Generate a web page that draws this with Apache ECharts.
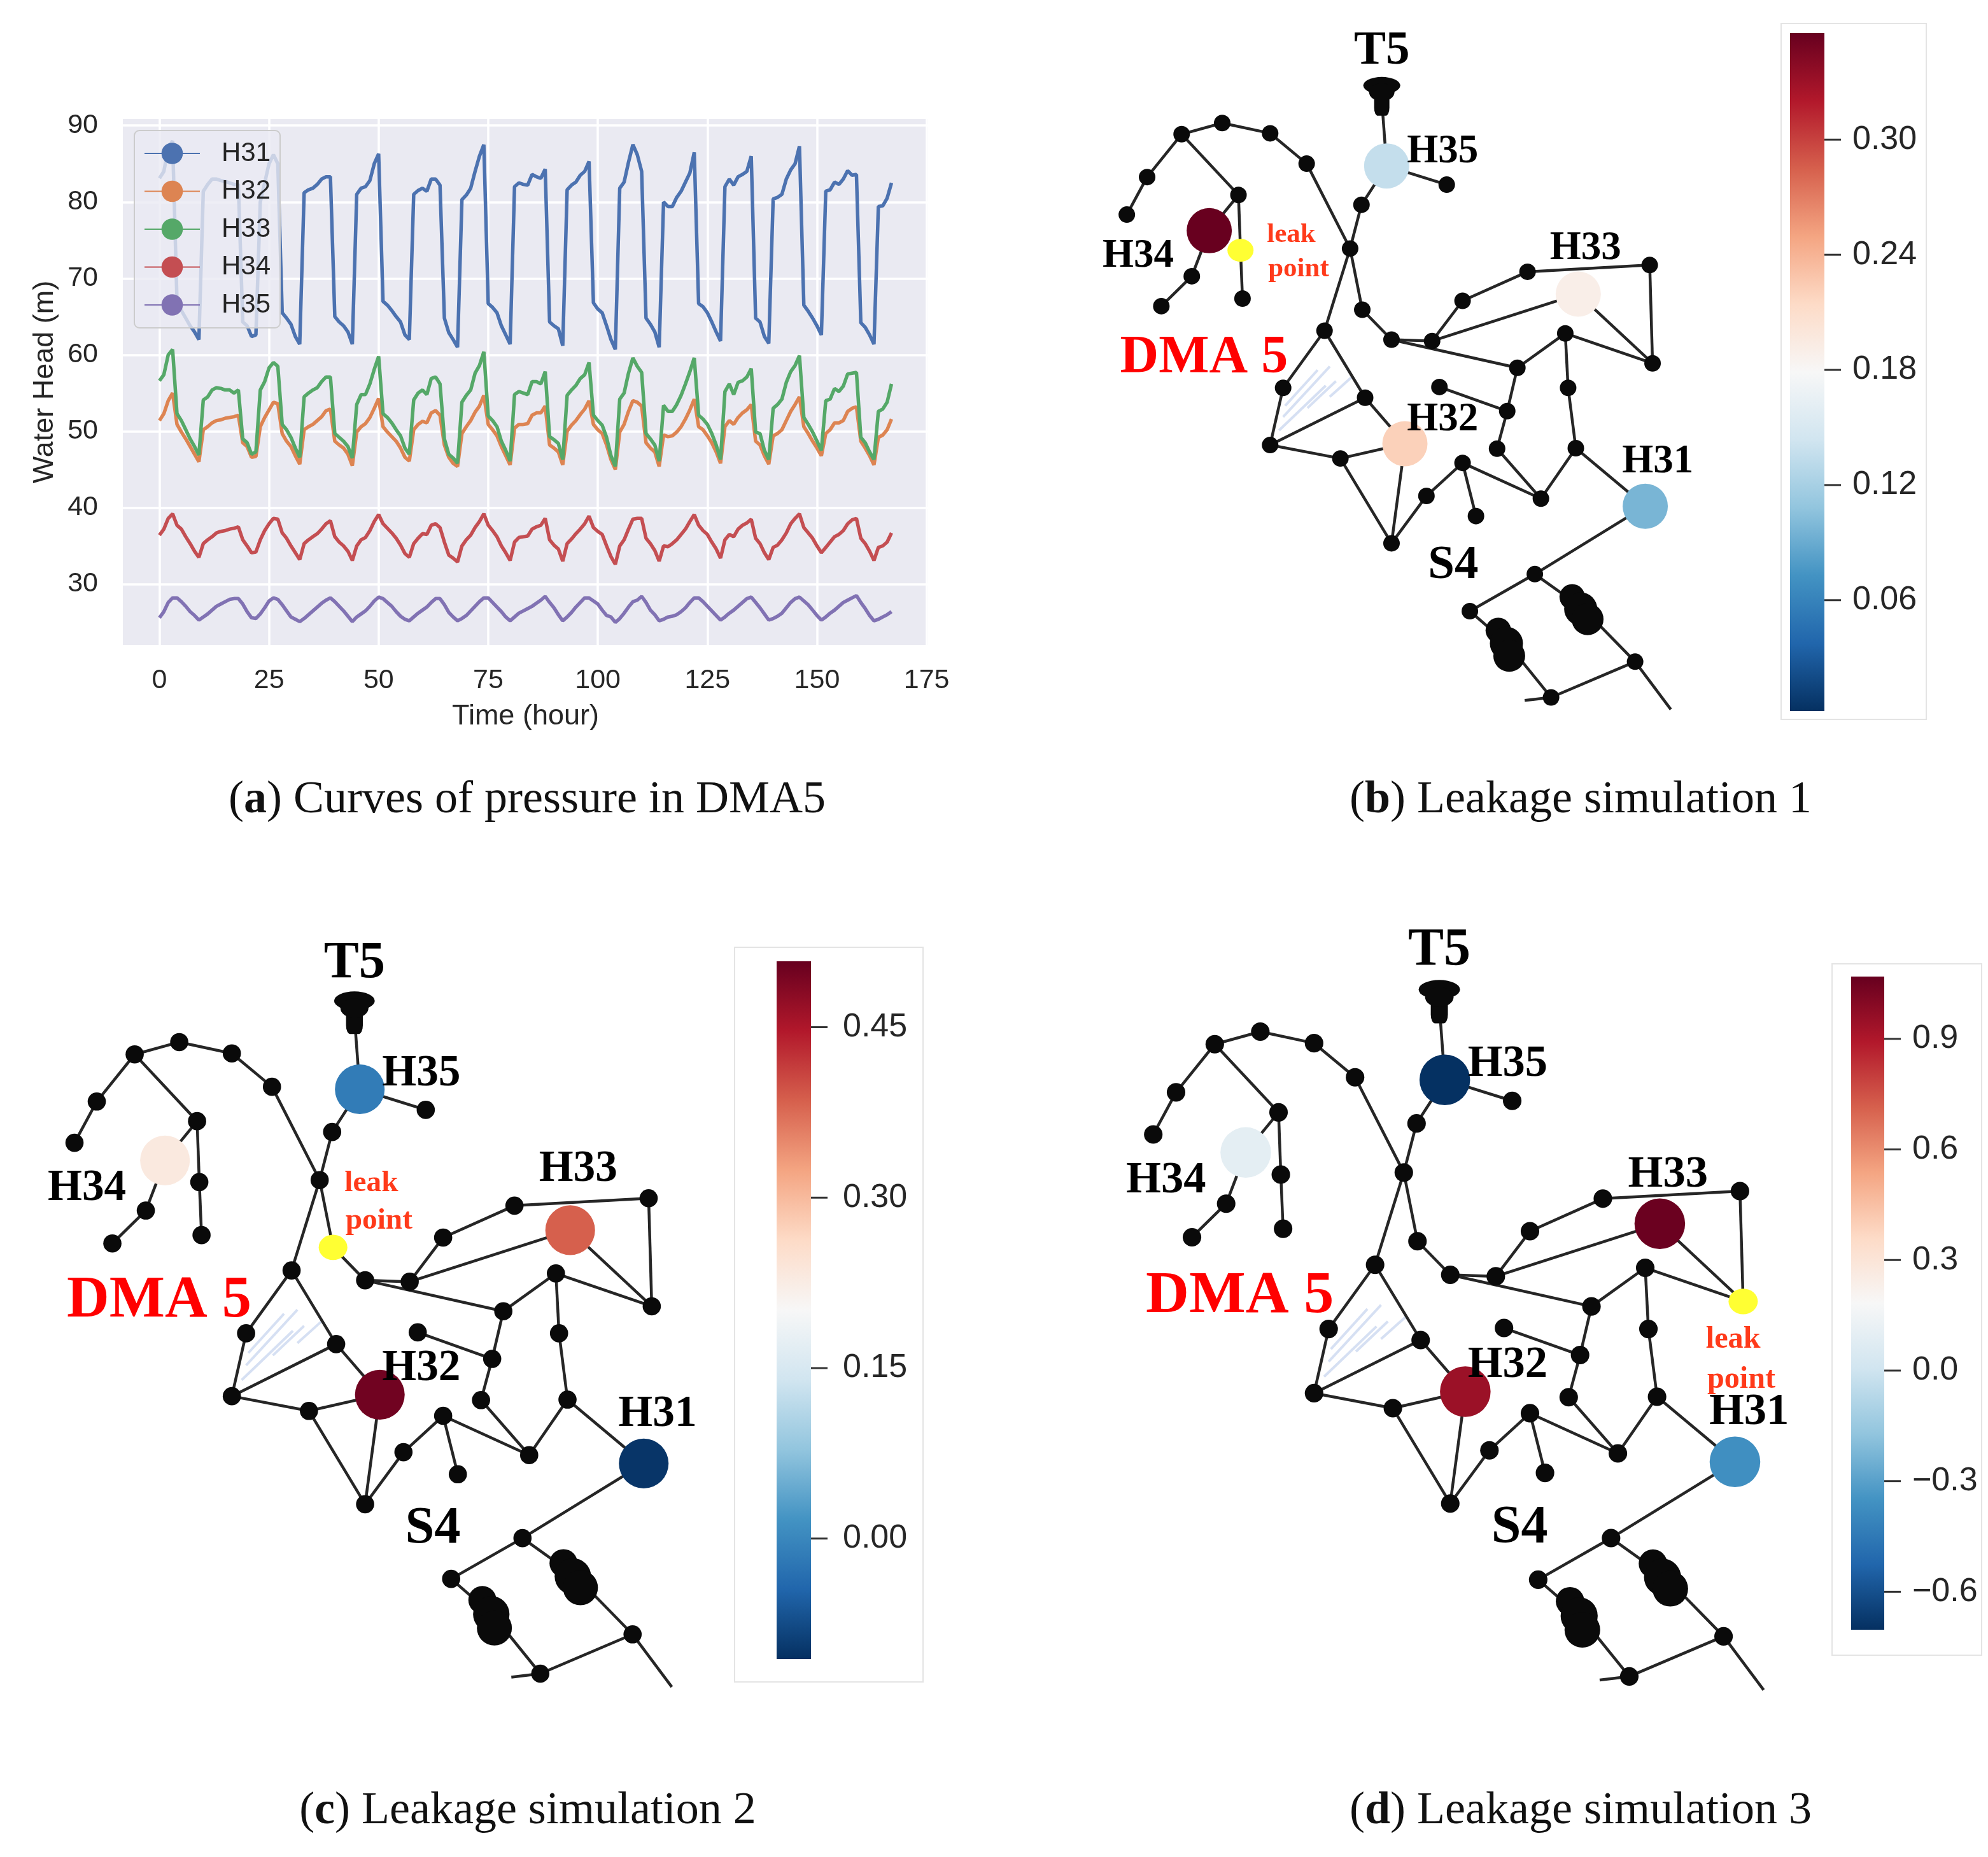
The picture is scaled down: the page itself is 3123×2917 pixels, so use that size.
<!DOCTYPE html>
<html><head><meta charset="utf-8">
<style>html,body{margin:0;padding:0;background:#fff}#c{width:3123px;height:2917px}</style>
<script src="https://cdn.jsdelivr.net/npm/echarts@6/dist/echarts.min.js"></script>
</head><body><div id="c"></div>
<script>
const hours = Array.from({length:168},(_,i)=>i);
const xTicks = [0,25,50,75,100,125,150,175];
const yTicks = [30,40,50,60,70,80,90];
const H31 = [83.1,84,87,88,67,65.8,64.8,63.8,63,62,81.4,82.3,83,83,82.8,82.7,82.5,82.3,82.3,64.3,63.8,62.4,62.6,80,82.5,85,86.2,85,65.5,64.8,64,62.4,61.4,81.2,81.6,81.8,82.3,83,83.3,83.3,65,64.3,63.8,63,61.4,81,81.8,82,82.8,85,86.3,67,66.5,65.8,65,64.3,62.6,62,81,81.5,81.8,81.4,83,83,82.2,64.8,62.9,62,61,80.3,80.9,81.8,84,86,87.5,66.7,66.2,65.5,63.8,62.6,61.4,82,82.5,82.3,82.2,83.6,83.3,83.1,84.3,64.3,63.8,63.4,61.2,81.6,82.2,82.6,83.5,84,85.3,66.8,66,65.5,63.8,62,60.7,81.8,82.6,85.2,87.5,86.2,84,64.8,64,63,61,80,79.4,79.4,80.6,81.4,82.6,83.8,86.5,66.7,66.3,65.5,64.3,63,61.8,82,83,82.2,83.3,83.6,84,86,64.8,64.3,62.4,61.5,80.4,80.6,81,83,84.2,85,87.3,66.5,65.7,64.8,63.8,62.6,81.4,81.6,82.6,82.3,83,84.1,83.5,83.6,64.2,63.6,62.6,61.4,79.4,79.5,80.5,82.5];
const H32 = [51.4,52.3,54,55,50.9,49.9,49,48,47,46,50.2,50.6,51.1,51.4,51.5,51.7,51.8,51.9,52.1,48.5,48,46.6,46.7,50.6,51.8,52.8,53.8,53.6,49.7,48.7,48,46.8,45.7,50.2,50.6,50.9,51.4,51.9,52.7,52.9,48.7,48.2,47.8,47,45.5,49.9,50.6,51,51.8,53,54.3,50.6,49.9,49.3,48.7,47.8,46.6,46.1,50.2,50.9,51.3,51.1,52.4,52.7,52.1,48.2,46.6,45.8,45.4,49.7,50.6,51.4,52.5,53.3,54.7,50.9,50.2,49.4,48,46.8,45.6,50.4,50.9,50.9,51,52.1,52.4,52.4,53.3,48.2,47.8,47.3,45.6,50,50.8,51.4,52.2,52.9,54,50.9,50.2,49.7,48.2,46.3,45,49.9,50.9,52.6,54,53.8,53.3,48.5,47.8,47.3,45.4,49.5,49.3,49.4,49.9,50.6,51.6,52.8,54.2,50.6,50.2,49.4,48.5,47.3,45.8,50.6,51.4,50.9,51.8,52.4,52.8,53.5,48.7,48.2,46.8,45.7,49.4,49.7,50.2,51.4,52.6,53.5,54.5,50.6,49.7,48.7,47.8,46.8,49.7,50.2,51.1,51.1,51.4,52.6,53,53.2,48.7,47.8,46.8,45.6,49.2,49.5,50.2,51.6];
const H33 = [56.6,57.4,60,60.7,52.3,51.4,50.2,49,48,46.9,54.1,54.5,55.4,55.7,55.6,55.4,55.4,55,55.4,49,48.5,47,47.3,55.4,56.5,58.3,59,58.5,50.9,50.2,49.2,47.8,46.6,54.5,55,55.4,55.7,56.5,57.1,57.1,49.7,49.2,48.7,48,46.5,53.5,54.8,54.8,56.2,58.1,59.8,52.3,51.8,51.1,50.2,49.4,47.8,47,54.1,55,55.4,54.8,56.9,57.1,56.2,49,47,46.5,45.8,53.8,54.7,55.4,57.6,58.6,60.4,52,51.4,50.6,48.7,47.5,46.1,54.8,55.2,55,54.8,56.5,56.5,56.2,57.8,49.3,48.9,48.4,46.3,54.7,55.4,56,56.9,57.4,59,52.1,51.4,50.8,49.2,46.8,45.4,54.2,55,57.6,59.6,58.5,57.7,49.7,49,48.2,46.1,53.4,52.6,52.6,53.5,54.7,56.2,57.8,59.6,52.1,51.6,50.9,49.7,48.2,46.3,55.2,56.2,54.8,56.4,56.6,57.1,58.2,49.9,49.7,47.5,46.3,53,53.5,54.2,56.4,57.8,58.6,59.9,51.8,50.9,49.9,48.7,47.5,54,54.2,55.6,55.2,55.9,57.5,57.6,57.7,49.2,48.5,47.3,46.3,52.6,52.9,53.8,56.2];
const H34 = [36.4,37.2,38.6,39.2,37.7,37.2,36.2,35.3,34.3,33.5,35.3,35.8,36.2,36.7,36.9,37,37.2,37.3,37.5,35.8,35,34.1,34.2,35.8,37,37.9,38.6,38.5,36.7,36,35,34.1,33.2,35.3,35.8,36.2,36.6,37.2,37.9,38.3,36.2,35.5,35,34.3,33.1,35,35.8,36.1,37,38.2,39.1,37.9,37.3,36.7,36,35.1,34,33.5,35.3,36,36.6,36.5,37.7,37.9,37.4,35.5,33.8,33.4,32.9,35,35.8,36.4,37.4,38.2,39.2,37.7,37,36.2,35,34.1,33.1,35.5,36.1,36.2,36.3,37.2,37.5,37.7,38.6,35.8,35.1,34.6,33,35.3,35.9,36.6,37.2,37.9,38.9,37.4,36.9,36.5,35,33.6,32.6,35,35.8,37.2,38.5,38.6,38.6,36,35.3,34.4,33,35,34.9,35.3,35.8,36.5,37.2,38.2,39.1,37.7,37,36.5,35.5,34.6,33.4,35.8,36.5,36.2,37.2,37.7,38,38.5,36,35.3,34.1,33.2,34.8,35.1,35.8,36.7,37.9,38.6,39.2,37.4,36.7,36,35,34.1,34.8,35.5,36.2,36.5,37,37.9,38.4,38.6,36,35.3,34.3,33.1,34.8,35,35.5,36.7];
const H35 = [25.6,26.4,27.6,28.2,28.2,27.7,27.1,26.4,25.9,25.3,25.7,26.1,26.6,27.1,27.4,27.7,28,28.1,28.1,27.4,26.4,25.6,25.5,26.1,26.9,27.8,28.2,28,27.3,26.5,25.7,25.4,25.1,25.5,26,26.5,27,27.5,27.9,28.2,27.7,27.1,26.5,25.8,25.1,25.7,26.1,26.5,27.1,27.8,28.3,28.1,27.6,27.1,26.4,25.8,25.4,25.2,25.7,26.2,26.6,27,27.6,28.1,28.1,27.3,26.3,25.7,25.2,25.5,25.9,26.5,27.1,27.7,28.2,28.2,27.6,27,26.4,25.7,25.2,25.7,26.2,26.5,26.8,27.1,27.5,27.9,28.4,27.6,26.9,26,25.2,25.7,26.3,27,27.6,28.2,28.2,27.8,27.4,26.6,25.9,25.7,25,25.5,26.2,27,27.7,27.9,28.4,27.6,26.6,26,25.2,25.4,25.7,25.8,26,26.4,26.9,27.6,28.2,28.2,27.7,27.1,26.5,25.9,25.3,25.7,26.2,26.6,27.1,27.6,28.1,28.3,27.6,26.9,26.1,25.3,25.5,25.8,26.2,26.9,27.6,28.1,28.3,27.8,27.3,26.6,25.9,25.3,25.7,26.2,26.6,27.1,27.6,27.9,28.2,28.5,27.6,26.8,25.9,25.2,25.4,25.7,26,26.4];

/* network: junction names and their plan coordinates */
const nodeNames = ['A','B','C','D','E','F','G','Hn','I','I2','J','K','L','M','N','O','P','Q','R','S','T','U','V','W','X','Y','Z','AA','AB','AC','AD','AE','AF','AG','AH','AI','AJ','AK','AL','AM','AN','AO','Hh35','Hh34','Hh33','Hh32','Hh31','TK','B1','B2','EX','ST'];
const nodeX = [245,345,463,553,688,660,160,110,385,390,270,195,395,597,495,463,697,636,762,690,762,862,937,1097,1398,1405,1190,1072,1047,880,1022,1130,1197,1216,937,848,970,1115,955,1362,1155,898,750,313,1222,795,1387,738,1235,1050,1450,1090];
const nodeY = [272,247,270,338,430,528,368,452,408,532,590,657,640,712,840,968,862,998,1188,665,732,735,645,580,565,785,718,795,892,838,976,1088,840,975,1008,1082,1127,1257,1340,1453,1533,385,343,488,630,965,1105,195,1335,1415,1560,1540];
const linkFrom = ['A','B','C','D','A','G','A','I','I','I2','Hh34','J','F','E','Hh35','Hh35','F','F','S','T','U','V','W','X','U','Hh33','T','AA','Z','Z','AF','AG','AG','AE','AH','AI','AH','AA','AB','AB','AD','M','N','O','M','P','O','Q','Q','Hh32','Hh31','AK','AK','B1','AL','B2','AM','AM','AN'];
const linkTo = ['B','C','D','F','G','Hn','I','Hh34','I2','L','J','K','E','Hh35','TK','AO','M','S','T','U','V','W','X','Y','Hh33','Y','AA','Z','Y','AF','AG','Hh31','AE','AH','AI','R','AJ','AB','AC','AD','AE','N','O','P','P','Hh32','Q','Hh32','R','R','AK','AL','B1','AM','B2','AN','AN','EX','ST'];
const headNames = ['H31','H32','H33','H34','H35'];
const headX = [1387,795,1222,313,750];
const headY = [1105,965,630,488,343];
const headValuesB = [0.097,0.221,0.19,0.355,0.136];
const headValuesC = [-0.1,0.5,0.385,0.232,-0.014];
const headValuesD = [-0.366,0.945,1.06,0.094,-0.7];
const tickB = [0.06,0.12,0.18,0.24,0.30];
const tickC = [0.00,0.15,0.30,0.45];
const tickD = [-0.6,-0.3,0.0,0.3,0.6,0.9];
const leakB = [390,532];
const leakC = [690,665];
const leakD = [1405,785];
const RdBu = ['#053061','#2166ac','#4393c3','#92c5de','#d1e5f0','#f7f7f7','#fddbc7','#f4a582','#d6604d','#b2182b','#67001f'];

const panels = [
 {grid:{left:1700,top:20,width:1000,height:1100},k:1,vals:headValuesB,leak:leakB,h33y:528,leakT:[[515,497],[533,575]],
  bar:{left:2812,top:52,width:54,height:1065},range:[0.0022,0.3555],ticks:tickB,dec:2,margin:44,frame:[2798,37,228,1093]},
 {grid:{left:40,top:1446.4,width:1098,height:1209.6},k:1.1,vals:headValuesC,leak:leakC,h33y:507,leakT:[[776,534],[793,611]],
  bar:{left:1220,top:1510,width:54,height:1096},range:[-0.106,0.508],ticks:tickC,dec:2,margin:50,frame:[1154,1488,296,1154]},
 {grid:{left:1733,top:1426,width:1122,height:1235},k:1.12,vals:headValuesD,leak:leakD,h33y:533,leakT:[[1383,861],[1401,941]],
  bar:{left:2908,top:1534,width:52,height:1026},range:[-0.703,1.069],ticks:tickD,dec:1,margin:44,frame:[2878,1514,235,1086]}
];
const bigLabels = [['T5',738,87],['S4',914,1238]];
const headLabels = [['H35',888,312],['H34',138,545],['H32',888,912],['H31',1418,1006]];
const hatch = [[[495,905],[610,792]],[[485,935],[600,835]],[[555,885],[625,825]],[[610,860],[665,815]],[[500,880],[580,800]]];
const captions = [['a','Curves of pressure in DMA5',823,1256],['b','Leakage simulation 1',2478,1256],['c','Leakage simulation 2',824,2844],['d','Leakage simulation 3',2478,2844]];

const TXT='#262626', SANS='"Liberation Sans",Arial,sans-serif', SERIF='"Liberation Serif","Times New Roman",serif';
const grids=[{left:193,top:187,width:1265,height:826,show:true,backgroundColor:'#eaeaf2',borderWidth:0}];
const xAxes=[{type:'value',gridIndex:0,min:-8.35,max:175.35,
  axisLine:{show:false},axisTick:{show:false,customValues:xTicks},
  axisLabel:{customValues:xTicks,color:TXT,fontFamily:SANS,fontSize:43,margin:35},
  splitLine:{show:true,lineStyle:{color:'#fff',width:3.5}},
  name:'Time (hour)',nameLocation:'middle',nameGap:90,nameTextStyle:{color:TXT,fontFamily:SANS,fontSize:45}}];
const yAxes=[{type:'value',gridIndex:0,min:22.05,max:90.85,
  axisLine:{show:false},axisTick:{show:false,customValues:yTicks},
  axisLabel:{customValues:yTicks,color:TXT,fontFamily:SANS,fontSize:43,margin:39},
  splitLine:{show:true,lineStyle:{color:'#fff',width:3.5}},
  name:'Water Head (m)',nameLocation:'middle',nameGap:100,nameTextStyle:{color:TXT,fontFamily:SANS,fontSize:45}}];
const colors=['#4c72b0','#dd8452','#55a868','#c44e52','#8172b3'];
const series=[];
[['H31',H31],['H32',H32],['H33',H33],['H34',H34],['H35',H35]].forEach(([n,d],i)=>series.push({
  type:'line',name:n,xAxisIndex:0,yAxisIndex:0,symbol:'none',z:3,
  lineStyle:{width:5.5,color:colors[i]},itemStyle:{color:colors[i]},
  data:hours.map(h=>[h,d[h]])}));

const visualMaps=[]; const graphic=[];
const axisOff={type:'value',show:false,splitLine:{show:false}};
panels.forEach((p,pi)=>{
  const gi=grids.length;
  grids.push({...p.grid});
  xAxes.push({...axisOff,gridIndex:gi,min:0,max:1568});
  yAxes.push({...axisOff,gridIndex:gi,min:0,max:1568,inverse:true});
  const k=p.k;
  series.push({type:'line',xAxisIndex:gi,yAxisIndex:gi,symbol:'none',z:2,connectNulls:false,
    lineStyle:{color:'#d6e0f3',width:4},
    data:hatch.flatMap(s=>[s[0],s[1],['-','-']])});
  const special={TK:{symbol:'roundRect',symbolSize:[24*k,50*k]},B1:{symbol:'none'},B2:{symbol:'none'},EX:{symbol:'none'},ST:{symbol:'none'}};
  series.push({type:'graph',coordinateSystem:'cartesian2d',xAxisIndex:gi,yAxisIndex:gi,layout:'none',z:3,
    symbolSize:26*k,itemStyle:{color:'#0a0a0a',opacity:1},
    lineStyle:{color:'#262626',width:4.5,opacity:1,curveness:0},label:{show:false},
    data:nodeNames.map((n,i)=>({name:n,value:[nodeX[i],nodeY[i]],...(special[n]||{})})),
    links:linkFrom.map((s,i)=>({source:s,target:linkTo[i]}))});
  /* tank cap and inline blobs */
  series.push({type:'scatter',xAxisIndex:gi,yAxisIndex:gi,z:4,itemStyle:{color:'#0a0a0a',opacity:1},symbol:'circle',
    data:[{value:[738,163],symbolSize:[58*k,27*k]},{value:[738,178],symbolSize:[40*k,28*k]},
      {value:[1207,1308],symbolSize:40*k},{value:[1228,1335],symbolSize:52*k},{value:[1245,1358],symbolSize:50*k},
      {value:[1025,1383],symbolSize:40*k},{value:[1045,1412],symbolSize:52*k},{value:[1052,1440],symbolSize:50*k}]});
  const hi=series.length;
  series.push({type:'scatter',xAxisIndex:gi,yAxisIndex:gi,z:5,symbolSize:71*k,itemStyle:{opacity:1},
    data:headNames.map((n,i)=>({name:n,value:[headX[i],headY[i],p.vals[i]]}))});
  visualMaps.push({show:false,seriesIndex:hi,dimension:2,min:p.range[0],max:p.range[1],inRange:{color:RdBu}});
  series.push({type:'scatter',xAxisIndex:gi,yAxisIndex:gi,z:6,symbolSize:[41*k,36*k],itemStyle:{color:'#ffff33',opacity:1},data:[p.leak]});
  const textSer=(arr,font,color)=>({type:'scatter',xAxisIndex:gi,yAxisIndex:gi,z:7,symbolSize:1,
    itemStyle:{color:'transparent'},
    label:{show:true,position:'inside',formatter:'{b}',color,opacity:1,fontFamily:SERIF,fontWeight:'bold',fontSize:font},
    data:arr.map(a=>({name:a[0],value:[a[1],a[2]]}))});
  series.push(textSer(bigLabels,75*k,'#000'));
  series.push(textSer(headLabels.concat([['H33',1240,p.h33y]]),63*k,'#000'));
  series.push(textSer([['DMA 5',300,775]],84*k,'#ff0000'));
  series.push(textSer([['leak',p.leakT[0][0],p.leakT[0][1]],['point',p.leakT[1][0],p.leakT[1][1]]],43*k,'#ff3a1a'));

  /* colour bar */
  const bi=grids.length, [vmin,vmax]=p.range;
  grids.push({...p.bar});
  xAxes.push({...axisOff,gridIndex:bi,min:0,max:1});
  yAxes.push({type:'value',gridIndex:bi,position:'right',min:vmin,max:vmax,
    axisLine:{show:false},splitLine:{show:false},
    axisTick:{show:false,customValues:p.ticks},
    axisLabel:{customValues:p.ticks,margin:p.margin,color:TXT,fontFamily:SANS,fontSize:52,
      formatter:v=>v.toFixed(p.dec).replace('-','\u2212')}});
  const stops=RdBu.map((c,i)=>({offset:1-i/(RdBu.length-1),color:c}));
  series.push({type:'custom',xAxisIndex:bi,yAxisIndex:bi,z:3,data:[[0,vmin,1,vmax]],
    renderItem:(params,api)=>{
      const a=api.coord([api.value(0),api.value(3)]),b=api.coord([api.value(2),api.value(1)]);
      return {type:'rect',shape:{x:a[0],y:a[1],width:b[0]-a[0],height:b[1]-a[1]},
        style:{fill:new echarts.graphic.LinearGradient(0,0,0,1,stops)}};
    }});
  series.push({type:'custom',xAxisIndex:bi,yAxisIndex:bi,z:3,clip:false,data:p.ticks.map(v=>[1,v]),
    renderItem:(params,api)=>{
      const a=api.coord([api.value(0),api.value(1)]);
      return {type:'line',shape:{x1:a[0],y1:a[1],x2:a[0]+26,y2:a[1]},style:{stroke:'#333',lineWidth:3}};
    }});
  const f=p.frame;
  graphic.push({type:'rect',z:0,shape:{x:f[0],y:f[1],width:f[2],height:f[3]},style:{fill:'none',stroke:'#e4e4e4',lineWidth:2}});
});

const chart=echarts.init(document.getElementById('c'),null,{renderer:'canvas',width:3123,height:2917});
chart.setOption({
  animation:false,backgroundColor:'#fff',
  grid:grids,xAxis:xAxes,yAxis:yAxes,series,visualMap:visualMaps,graphic,
  legend:{data:['H31','H32','H33','H34','H35'],orient:'vertical',left:211,top:205,
    padding:[15,15,15,15],itemWidth:87,itemHeight:42,itemGap:17.5,
    backgroundColor:'rgba(234,234,242,0.8)',borderColor:'#cccccc',borderWidth:2,borderRadius:8,
    textStyle:{color:TXT,fontFamily:SANS,fontSize:42,padding:[0,0,0,29]}},
  title:captions.map(c=>({text:'({b|'+c[0]+'}) '+c[1],left:c[2],top:c[3]-40,textAlign:'center',
    textStyle:{color:'#111',fontFamily:SERIF,fontWeight:'normal',fontSize:72,
      rich:{b:{fontFamily:SERIF,fontWeight:'bold',fontSize:72,color:'#111'}}}}))
});
</script></body></html>
